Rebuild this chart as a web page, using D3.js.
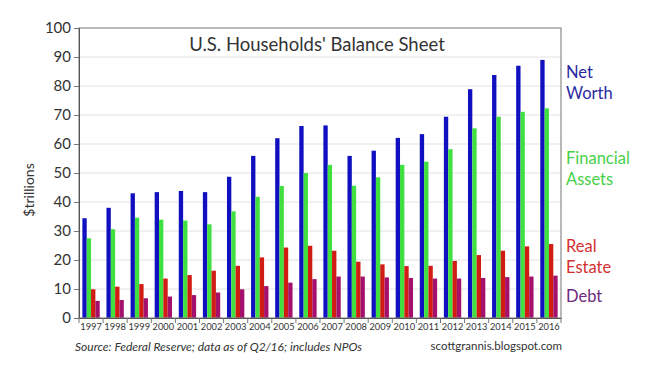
<!DOCTYPE html>
<html>
<head>
<meta charset="utf-8">
<script src="https://cdn.jsdelivr.net/npm/d3@7"></script>
<style>
  body { margin: 0; background: #fff; }
  svg { display: block; font-family: "Lato", "Open Sans", sans-serif; }
</style>
</head>
<body>
<svg id="chart" width="660" height="370"></svg>
<script>
// values ($ trillions)
const years = ["1997", "1998", "1999", "2000", "2001", "2002", "2003", "2004", "2005", "2006",
  "2007", "2008", "2009", "2010", "2011", "2012", "2013", "2014", "2015", "2016"];
const netWorth = [34.4, 38.0, 43.0, 43.4, 43.8, 43.4, 48.7, 55.9, 62.0, 66.2,
  66.4, 55.9, 57.7, 62.1, 63.4, 69.4, 78.9, 83.8, 87.0, 89.0];
const financialAssets = [27.5, 30.6, 34.6, 33.9, 33.6, 32.3, 36.8, 41.8, 45.5, 50.0,
  52.8, 45.6, 48.5, 52.8, 53.9, 58.2, 65.4, 69.4, 71.1, 72.3];
const realEstate = [9.9, 10.8, 11.7, 13.6, 14.8, 16.3, 18.0, 20.9, 24.3, 24.9,
  23.2, 19.4, 18.5, 17.9, 18.0, 19.7, 21.7, 23.2, 24.7, 25.5];
const debt = [5.9, 6.2, 6.8, 7.4, 7.9, 8.8, 9.9, 11.0, 12.2, 13.4,
  14.3, 14.3, 14.0, 13.8, 13.6, 13.6, 13.8, 14.1, 14.3, 14.6];
const yTicks = [0, 10, 20, 30, 40, 50, 60, 70, 80, 90, 100];

const series = [
  { key: "nw", values: netWorth, fill: "#1010c0" },
  { key: "fa", values: financialAssets, fill: "#40e040" },
  { key: "re", values: realEstate, fill: "#d01c12" },
  { key: "debt", values: debt, fill: "#a4106c" }
];
const legend = [
  { lines: ["Net", "Worth"], y: 78, color: "#2a2aa0" },
  { lines: ["Financial", "Assets"], y: 164, color: "#48d048" },
  { lines: ["Real", "Estate"], y: 252, color: "#d43030" },
  { lines: ["Debt"], y: 302, color: "#6e2a80" }
];

const svg = d3.select("#chart");
const margin = { top: 28, right: 99, bottom: 52, left: 79 };
const innerW = 660 - margin.left - margin.right;
const innerH = 370 - margin.top - margin.bottom;

const g = svg.append("g").attr("transform", `translate(${margin.left},${margin.top})`);

const x0 = d3.scaleBand().domain(years).range([0, innerW]).padding(0);
const x1 = d3.scaleBand().domain(series.map((s) => s.key))
  .range([x0.bandwidth() * 0.14, x0.bandwidth() * 0.86]).padding(0);
const y = d3.scaleLinear().domain([0, 100]).range([innerH, 0]);

// grid
g.append("g").selectAll("line").data(yTicks.filter((t) => t > 0 && t < 100)).join("line")
  .attr("x1", 0).attr("x2", innerW)
  .attr("y1", (d) => y(d)).attr("y2", (d) => y(d))
  .attr("stroke", "#e2e2e2").attr("stroke-width", 1);

// bars
const groups = g.append("g").selectAll("g").data(years).join("g")
  .attr("transform", (d) => `translate(${x0(d)},0)`);
groups.selectAll("rect")
  .data((d, i) => series.map((s) => ({ key: s.key, v: s.values[i], fill: s.fill })))
  .join("rect")
  .attr("x", (d) => x1(d.key))
  .attr("width", x1.bandwidth())
  .attr("y", (d) => y(d.v))
  .attr("height", (d) => y(0) - y(d.v))
  .attr("fill", (d) => d.fill);

// frame
g.append("rect").attr("x", 0).attr("y", 0).attr("width", innerW).attr("height", innerH)
  .attr("fill", "none").attr("stroke", "#8a8a8a").attr("stroke-width", 1.2);

// y axis
const yAxis = g.append("g")
  .call(d3.axisLeft(y).tickValues(yTicks).tickSize(5).tickPadding(3));
yAxis.select(".domain").attr("stroke", "#555");
yAxis.selectAll(".tick line").attr("stroke", "#777");
yAxis.selectAll("text").attr("font-size", 15).attr("fill", "#333")
  .attr("font-family", "Lato, sans-serif");

// x axis: labels centred, ticks at the group boundaries
const xAxis = g.append("g").attr("transform", `translate(0,${innerH})`)
  .call(d3.axisBottom(x0).tickSize(0).tickPadding(5));
xAxis.select(".domain").attr("stroke", "#555");
xAxis.selectAll("text").attr("font-size", 9.3).attr("fill", "#333")
  .attr("font-family", "Lato, sans-serif");
g.append("g").selectAll("line").data(years.concat(["end"])).join("line")
  .attr("x1", (d) => (d === "end" ? innerW : x0(d)))
  .attr("x2", (d) => (d === "end" ? innerW : x0(d)))
  .attr("y1", innerH).attr("y2", innerH + 5)
  .attr("stroke", "#777");

// title
svg.append("text").attr("x", 317).attr("y", 51).attr("text-anchor", "middle")
  .attr("font-size", 18.5).attr("fill", "#333")
  .text("U.S. Households' Balance Sheet");

// y title
svg.append("text").attr("transform", "translate(34,190) rotate(-90)")
  .attr("text-anchor", "middle").attr("font-size", 14).attr("fill", "#333")
  .text("$trillions");

// legend labels at right
legend.forEach((l) => {
  const t = svg.append("text").attr("x", 566).attr("y", l.y)
    .attr("font-size", 16.5).attr("fill", l.color);
  l.lines.forEach((line, i) => {
    t.append("tspan").attr("x", 566).attr("dy", i === 0 ? 0 : 21).text(line);
  });
});

// footer
svg.append("text").attr("x", 75).attr("y", 351)
  .attr("font-size", 12).attr("font-style", "italic").attr("fill", "#333")
  .text("Source: Federal Reserve; data as of Q2/16; includes NPOs");
svg.append("text").attr("x", 562).attr("y", 350).attr("text-anchor", "end")
  .attr("font-size", 11.5).attr("fill", "#333")
  .text("scottgrannis.blogspot.com");
</script>
</body>
</html>
